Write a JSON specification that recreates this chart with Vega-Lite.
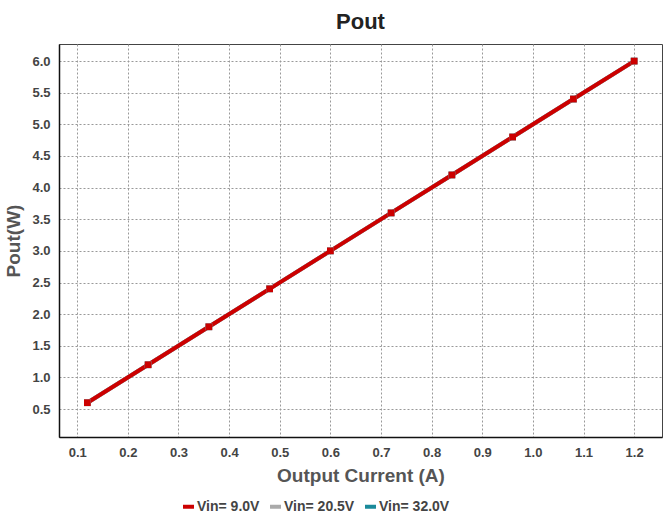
{
  "$schema": "https://vega.github.io/schema/vega-lite/v6.json",
  "width": 603,
  "height": 393,
  "autosize": "none",
  "padding": {"left": 59, "top": 44, "right": 8, "bottom": 78},
  "background": "white",
  "title": {"text": "Pout", "font": "Liberation Sans", "fontSize": 22, "fontWeight": "bold", "color": "#222", "offset": 10},
  "data": {"values": [
    {"v": "Vin= 32.0V", "i": 0.12, "p": 0.6}, {"v": "Vin= 32.0V", "i": 0.24, "p": 1.2}, {"v": "Vin= 32.0V", "i": 0.36, "p": 1.8}, {"v": "Vin= 32.0V", "i": 0.48, "p": 2.4}, {"v": "Vin= 32.0V", "i": 0.6, "p": 3.0}, {"v": "Vin= 32.0V", "i": 0.72, "p": 3.6}, {"v": "Vin= 32.0V", "i": 0.84, "p": 4.2}, {"v": "Vin= 32.0V", "i": 0.96, "p": 4.8}, {"v": "Vin= 32.0V", "i": 1.08, "p": 5.4}, {"v": "Vin= 32.0V", "i": 1.2, "p": 6.0},
    {"v": "Vin= 20.5V", "i": 0.12, "p": 0.6}, {"v": "Vin= 20.5V", "i": 0.24, "p": 1.2}, {"v": "Vin= 20.5V", "i": 0.36, "p": 1.8}, {"v": "Vin= 20.5V", "i": 0.48, "p": 2.4}, {"v": "Vin= 20.5V", "i": 0.6, "p": 3.0}, {"v": "Vin= 20.5V", "i": 0.72, "p": 3.6}, {"v": "Vin= 20.5V", "i": 0.84, "p": 4.2}, {"v": "Vin= 20.5V", "i": 0.96, "p": 4.8}, {"v": "Vin= 20.5V", "i": 1.08, "p": 5.4}, {"v": "Vin= 20.5V", "i": 1.2, "p": 6.0},
    {"v": "Vin= 9.0V", "i": 0.12, "p": 0.6}, {"v": "Vin= 9.0V", "i": 0.24, "p": 1.2}, {"v": "Vin= 9.0V", "i": 0.36, "p": 1.8}, {"v": "Vin= 9.0V", "i": 0.48, "p": 2.4}, {"v": "Vin= 9.0V", "i": 0.6, "p": 3.0}, {"v": "Vin= 9.0V", "i": 0.72, "p": 3.6}, {"v": "Vin= 9.0V", "i": 0.84, "p": 4.2}, {"v": "Vin= 9.0V", "i": 0.96, "p": 4.8}, {"v": "Vin= 9.0V", "i": 1.08, "p": 5.4}, {"v": "Vin= 9.0V", "i": 1.2, "p": 6.0}
  ]},
  "mark": {"type": "line", "strokeWidth": 4, "point": {"shape": "square", "filled": true, "size": 45}},
  "encoding": {
    "x": {"field": "i", "type": "quantitative",
      "scale": {"domain": [0.064, 1.255], "nice": false, "zero": false},
      "axis": {"title": "Output Current (A)", "values": [0.1,0.2,0.3,0.4,0.5,0.6,0.7,0.8,0.9,1.0,1.1,1.2], "format": ".1f"}},
    "y": {"field": "p", "type": "quantitative",
      "scale": {"domain": [0.058, 6.27], "nice": false, "zero": false},
      "axis": {"title": "Pout(W)", "values": [0.5,1.0,1.5,2.0,2.5,3.0,3.5,4.0,4.5,5.0,5.5,6.0], "format": ".1f"}},
    "color": {"field": "v", "type": "nominal",
      "scale": {"domain": ["Vin= 9.0V", "Vin= 20.5V", "Vin= 32.0V"], "range": ["#cc0000", "#aaaaaa", "#1a8a9a"]},
      "legend": {"title": null, "orient": "none", "legendX": 122, "legendY": 455, "direction": "horizontal", "symbolType": "stroke", "symbolStrokeWidth": 4, "symbolSize": 120, "labelFont": "Liberation Sans", "labelFontSize": 14, "labelFontWeight": "bold", "labelColor": "#444", "columnPadding": 2, "labelOffset": 1}
    }
  },
  "config": {
    "view": {"stroke": "#444", "strokeWidth": 1},
    "axis": {
      "labelFont": "Liberation Sans", "labelFontSize": 13, "labelFontWeight": "bold", "labelColor": "#444",
      "titleFont": "Liberation Sans", "titleFontSize": 19, "titleFontWeight": "bold", "titleColor": "#555",
      "grid": true, "gridColor": "#999", "gridDash": [2, 2], "gridWidth": 1,
      "domainColor": "#111", "domainWidth": 1.5, "ticks": false, "labelPadding": 9
    },
    "axisX": {"titlePadding": 7},
    "axisY": {"titlePadding": 8}
  }
}
